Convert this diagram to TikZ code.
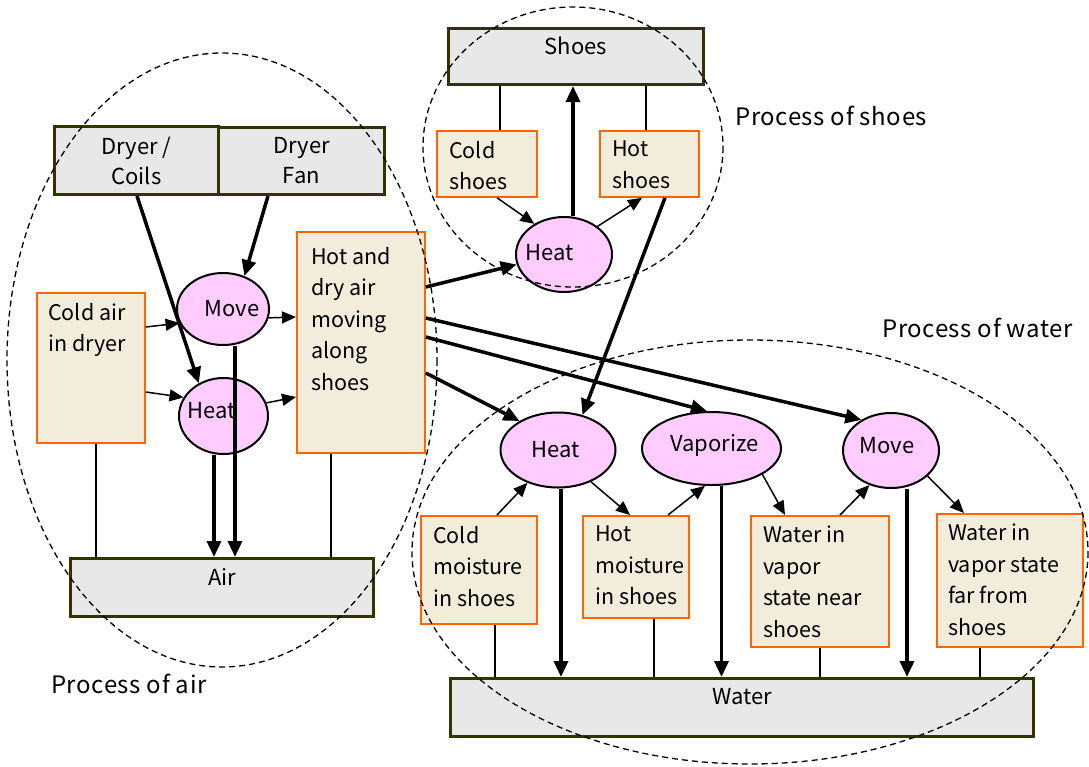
\documentclass[tikz,border=0pt]{standalone}
\usepackage{fontspec}
\setmainfont{Noto Sans CJK JP}
\newfontfamily\capfont[LetterSpace=2.5]{Noto Sans CJK JP}
\usetikzlibrary{shapes.geometric,arrows.meta}

\definecolor{stockfill}{HTML}{E8E8E8}
\definecolor{stockline}{HTML}{333300}
\definecolor{statefill}{HTML}{F2EDDA}
\definecolor{stateline}{HTML}{FF6600}
\definecolor{procfill}{HTML}{FFCCFF}

\tikzset{
  stock/.style={rectangle, draw=stockline, fill=stockfill, line width=3pt, inner sep=0pt, anchor=north west},
  state/.style={rectangle, draw=stateline, fill=statefill, line width=1.8pt, inner sep=0pt, anchor=north west},
  proc/.style={ellipse, draw=black, fill=procfill, line width=2pt, inner sep=0pt},
  proclabel/.style={font=\fontsize{22}{26}\selectfont, inner sep=0pt},
  txt/.style={font=\fontsize{21.5}{31.5}\selectfont, inner sep=0pt, align=left, anchor=north west},
  ctxt/.style={font=\fontsize{22}{30}\selectfont, inner sep=0pt, align=center, anchor=north},
  flow/.style={line width=3.5pt, -{Triangle[length=16pt,width=14pt]}},
  link/.style={line width=1.5pt, -{Triangle[length=14pt,width=12pt]}},
  tie/.style={line width=1.3pt},
  region/.style={draw=black, dash pattern=on 6pt off 4pt, line width=1.3pt},
  caption/.style={font=\capfont\fontsize{24}{28}\selectfont, inner sep=0pt, anchor=base west},
}

\begin{document}
\begin{tikzpicture}[x=1pt, y=-1pt]
\useasboundingbox (0,0) rectangle (1089,766);
\fill[white] (0,0) rectangle (1089,766);

% stocks
\node[stock, minimum width=164pt, minimum height=68pt] (coils) at (53,125) {};
\node[stock, minimum width=166pt, minimum height=67pt] (fan) at (217,126) {};
\node[stock, minimum width=303pt, minimum height=58pt] (air) at (69,557) {};
\node[stock, minimum width=255pt, minimum height=56pt] (shoes) at (447,27) {};
\node[stock, minimum width=583pt, minimum height=58pt] (water) at (449,677) {};

\node[ctxt] (coilsT) at ([yshift=-11.5pt]coils.north) {Dryer /\\Coils};
\node[ctxt] (fanT) at ([yshift=-11.5pt]fan.north) {Dryer\\Fan};
\node[ctxt] (airT) at ([yshift=-11pt]air.north) {Air};
\node[ctxt] (shoesT) at ([yshift=-10pt]shoes.north) {Shoes};
\node[ctxt] (waterT) at ([yshift=-11pt]water.north) {Water};

% states
\node[state, minimum width=108pt, minimum height=150pt] (coldair) at (36,292) {};
\node[state, minimum width=128pt, minimum height=221pt] (hotdry) at (296,231) {};
\node[state, minimum width=100pt, minimum height=66pt] (coldS) at (436,130) {};
\node[state, minimum width=99pt, minimum height=66pt] (hotS) at (599,130) {};
\node[state, minimum width=116pt, minimum height=108pt] (coldM) at (420,515) {};
\node[state, minimum width=106pt, minimum height=102pt] (hotM) at (582,515) {};
\node[state, minimum width=138pt, minimum height=131pt] (nearW) at (750,515) {};
\node[state, minimum width=146pt, minimum height=133pt] (farW) at (936,513) {};

\node[txt] (coldairT) at ([xshift=12pt,yshift=-11pt]coldair.north west) {Cold air\\in dryer};
\node[txt] (hotdryT) at ([xshift=15pt,yshift=-16pt]hotdry.north west) {Hot and\\dry air\\moving\\along\\shoes};
\node[txt] (coldST) at ([xshift=13pt,yshift=-11pt]coldS.north west) {Cold\\shoes};
\node[txt] (hotST) at ([xshift=13pt,yshift=-11pt]hotS.north west) {Hot\\shoes};
\node[txt] (coldMT) at ([xshift=13pt,yshift=-11pt]coldM.north west) {Cold\\moisture\\in shoes};
\node[txt] (hotMT) at ([xshift=13pt,yshift=-11pt]hotM.north west) {Hot\\moisture\\in shoes};
\node[txt] (nearWT) at ([xshift=13pt,yshift=-11pt]nearW.north west) {Water in\\vapor\\state near\\shoes};
\node[txt] (farWT) at ([xshift=12pt,yshift=-11pt]farW.north west) {Water in\\vapor state\\far from\\shoes};

% processes
\node[proc, minimum width=92pt, minimum height=72pt,
      label={[proclabel, xshift=9pt]center:Move}] (moveA) at (223,309) {};
\node[proc, minimum width=89pt, minimum height=76pt,
      label={[proclabel, xshift=-12pt, yshift=5pt]center:Heat}] (heatA) at (223.5,416) {};
\node[proc, minimum width=96pt, minimum height=75pt,
      label={[proclabel, xshift=-14pt, yshift=2pt]center:Heat}] (heatS) at (564,254.5) {};
\node[proc, minimum width=115pt, minimum height=75pt,
      label={[proclabel, xshift=-2pt]center:Heat}] (heatW) at (558,450) {};
\node[proc, minimum width=139pt, minimum height=73pt,
      label={[proclabel, xshift=3pt, yshift=3pt]center:Vaporize}] (vap) at (711.5,448.5) {};
\node[proc, minimum width=96pt, minimum height=75pt,
      label={[proclabel, xshift=-4pt, yshift=5pt]center:Move}] (moveW) at (891,450.5) {};

% plain ties from states to their stocks
\coordinate (t1) at ([xshift=60pt]coldair.south west);
\coordinate (t2) at ([xshift=35pt]hotdry.south west);
\coordinate (t3) at ([xshift=64pt]coldS.north west);
\coordinate (t4) at ([xshift=47pt]hotS.north west);
\coordinate (t5) at ([xshift=75pt]coldM.south west);
\coordinate (t6) at ([xshift=72pt]hotM.south west);
\coordinate (t7) at ([xshift=70pt]nearW.south west);
\coordinate (t8) at ([xshift=44pt]farW.south west);
\draw[tie] (t1) -- (t1 |- air.north);
\draw[tie] (t2) -- (t2 |- air.north);
\draw[tie] (t3) -- (t3 |- shoes.south);
\draw[tie] (t4) -- (t4 |- shoes.south);
\draw[tie] (t5) -- (t5 |- water.north);
\draw[tie] (t6) -- (t6 |- water.north);
\draw[tie] (t7) -- (t7 |- water.north);
\draw[tie] (t8) -- (t8 |- water.north);

% thin influence arrows
\draw[link] ([yshift=-35pt]coldair.north east) -- (moveA.198);
\draw[link] ([yshift=-100pt]coldair.north east) -- (heatA.155);
\draw[link] (moveA.-11) -- ([yshift=-86pt]hotdry.north west);
\draw[link] (heatA.17) -- ([yshift=-166pt]hotdry.north west);
\draw[link] ([xshift=61pt]coldS.south west) -- (heatS.134);
\draw[link] (heatS.40) -- ([xshift=43pt]hotS.south west);
\draw[link] ([xshift=77pt]coldM.north west) -- (heatW.227);
\draw[link] (heatW.-44) -- ([xshift=48pt]hotM.north west);
\draw[link] ([xshift=86pt]hotM.north west) -- (vap.260);
\draw[link] (vap.-27) -- ([xshift=35pt]nearW.north west);
\draw[link] ([xshift=90pt]nearW.north west) -- (moveW.238);
\draw[link] (moveW.-35) -- ([xshift=28pt]farW.north west);

% thick flow arrows
\draw[flow] ([xshift=84pt]coils.south west) -- (heatA.127);
\draw[flow] ([xshift=51pt]fan.south west) -- (moveA.57);
\draw[flow] ([yshift=-56pt]hotdry.north east) -- (heatS.192);
\draw[flow] ([yshift=-87pt]hotdry.north east) -- (moveW.134);
\draw[flow] ([yshift=-106pt]hotdry.north east) -- (vap.97);
\draw[flow] ([yshift=-142pt]hotdry.north east) -- (heatW.143);
\draw[flow] ([xshift=66pt]hotS.south west) -- (heatW.55);

\coordinate (f1) at ([xshift=12pt]moveA.south);
\coordinate (f2) at ([xshift=-9.5pt]heatA.south);
\coordinate (f3) at ([xshift=9pt]heatS.north);
\coordinate (f4) at ([xshift=3pt]heatW.south);
\coordinate (f5) at ([xshift=10pt]vap.south);
\coordinate (f6) at ([xshift=16pt]moveW.south);
\draw[flow] (f1) -- (f1 |- air.north);
\draw[flow] (f2) -- (f2 |- air.north);
\draw[flow] (f3) -- (f3 |- shoes.south);
\draw[flow] (f4) -- (f4 |- water.north);
\draw[flow] (f5) -- (f5 |- water.north);
\draw[flow] (f6) -- (f6 |- water.north);

% process regions
\draw[region] (222,360) ellipse [x radius=215, y radius=307];
\draw[region] (573,147) ellipse [x radius=150, y radius=140];
\draw[region] (750,552) ellipse [x radius=338, y radius=212];

\node[caption] (capShoes) at (735,125) {Process of shoes};
\node[caption] (capWater) at (882,337) {Process of water};
\node[caption] (capAir) at (51,693) {Process of air};
\end{tikzpicture}
\end{document}
